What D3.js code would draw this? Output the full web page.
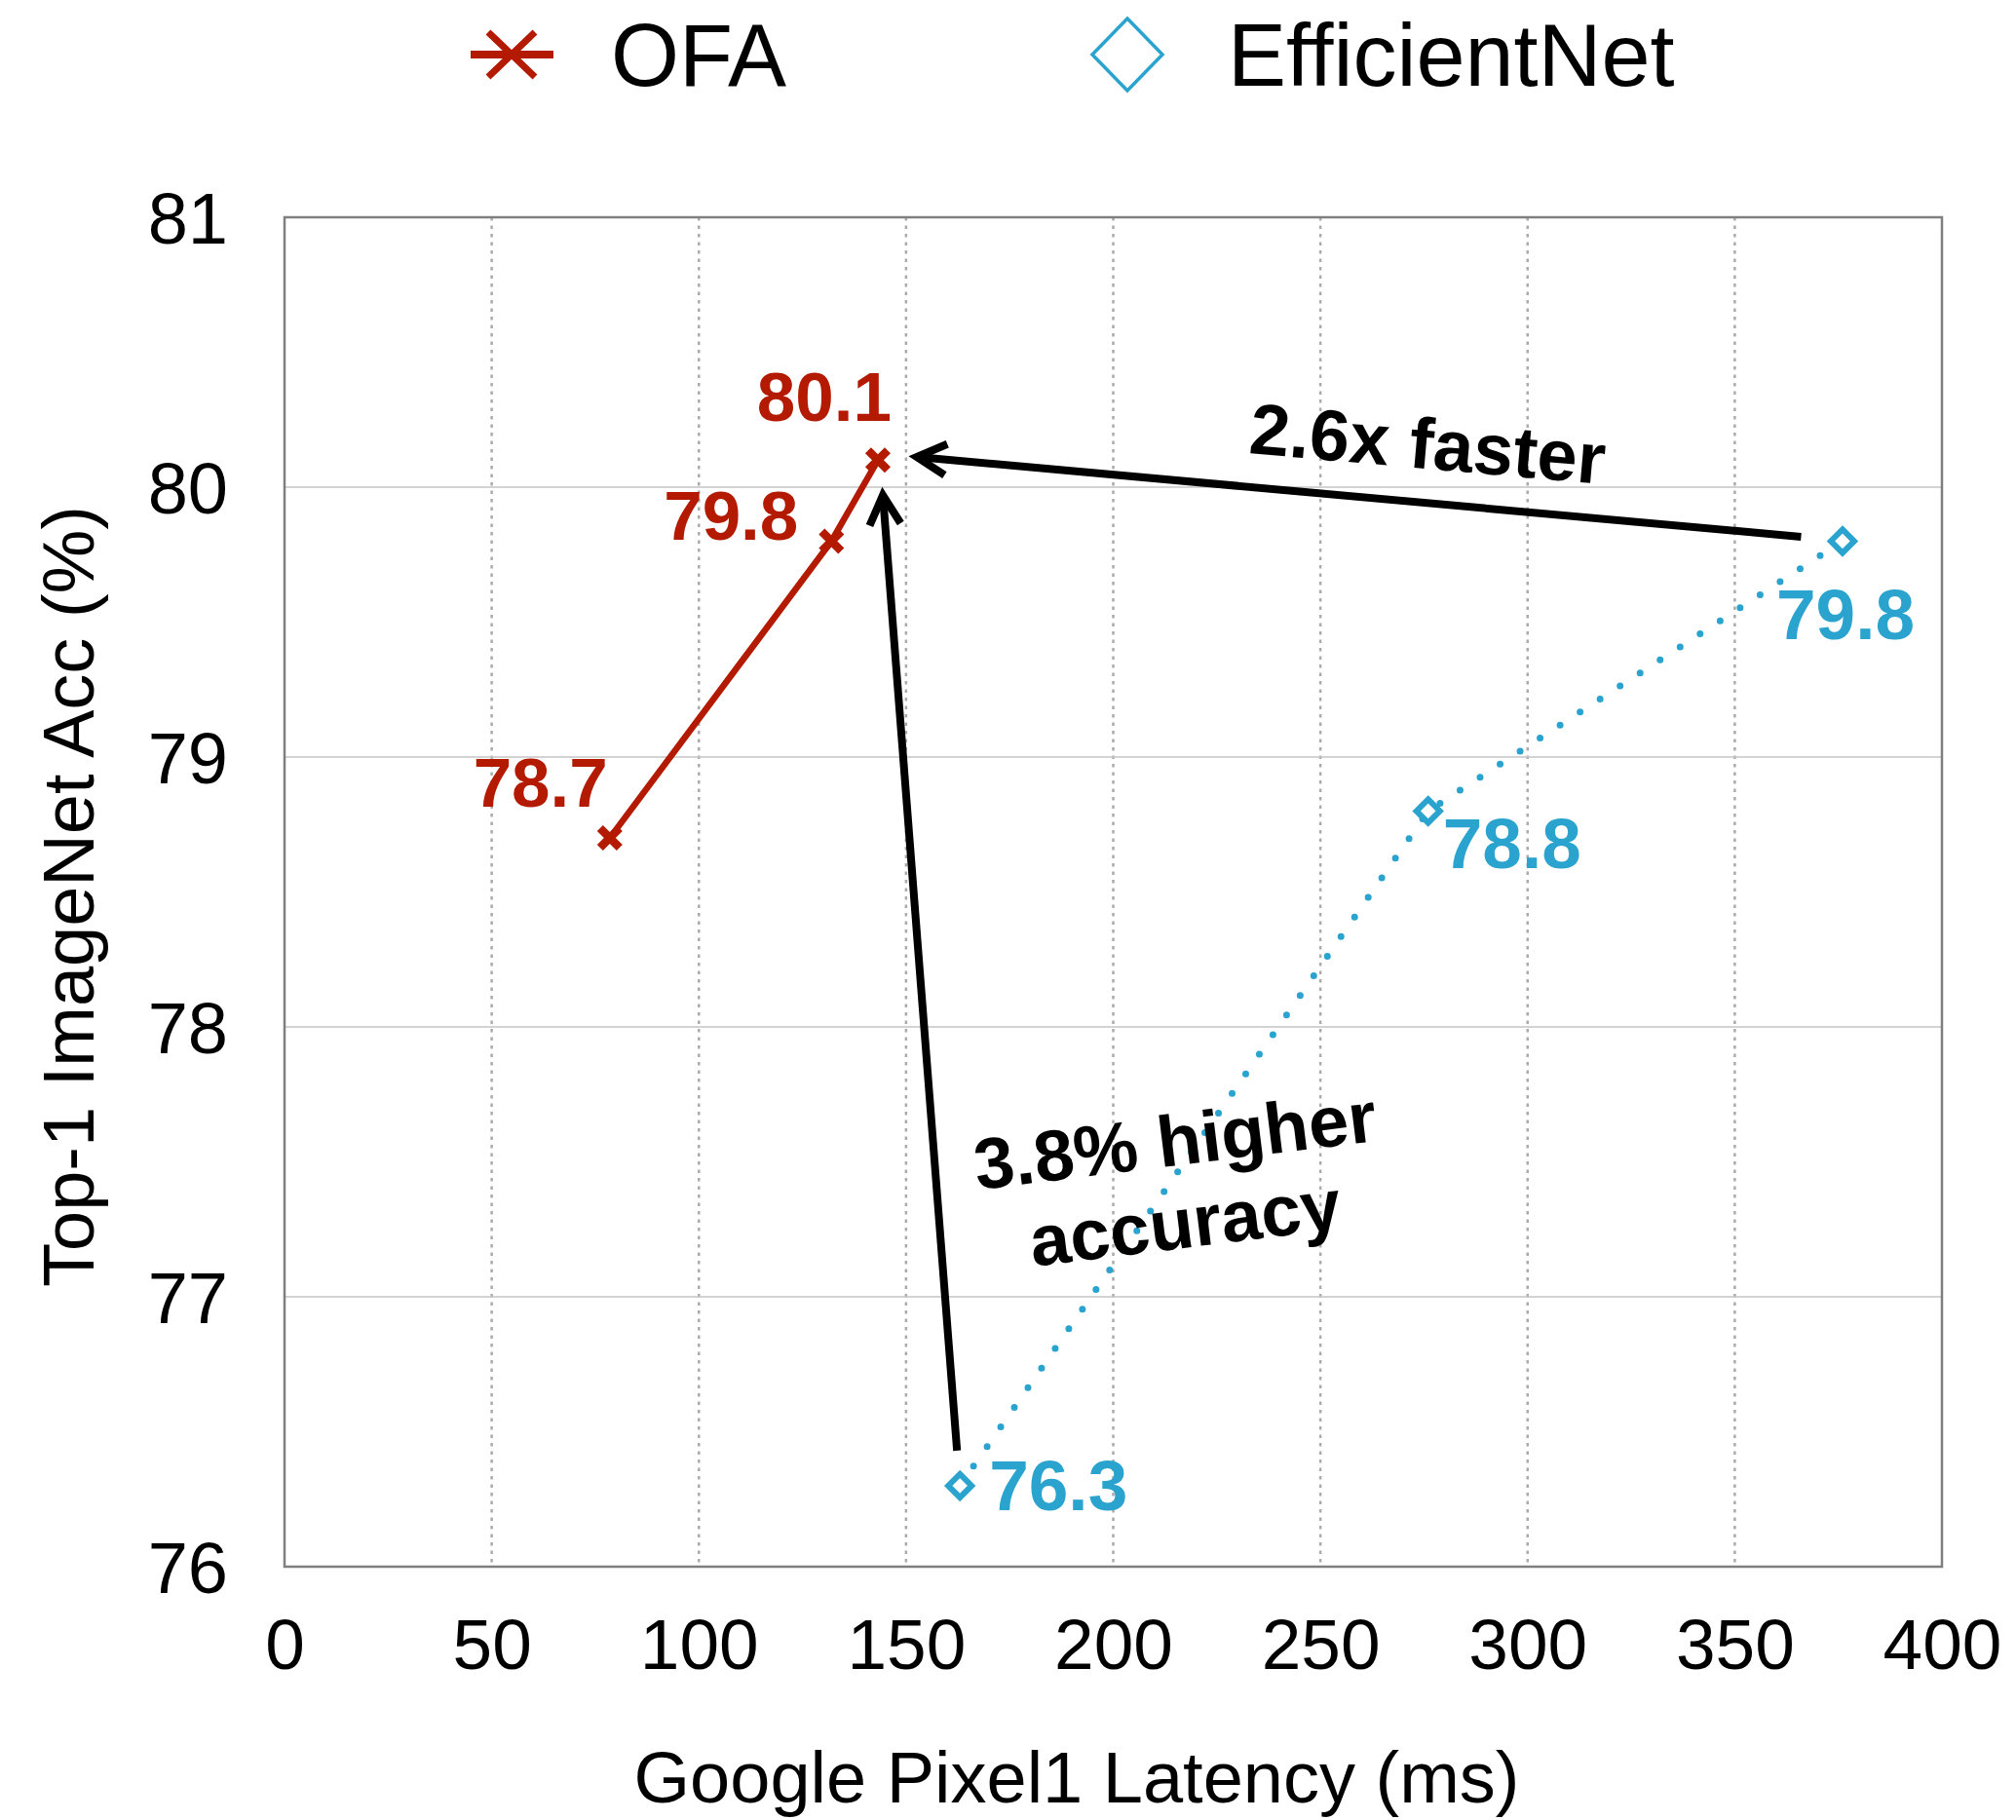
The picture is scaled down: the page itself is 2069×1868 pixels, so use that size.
<!DOCTYPE html>
<html>
<head>
<meta charset="utf-8">
<script src="https://cdn.jsdelivr.net/npm/d3@7"></script>
<style>
  html, body { margin: 0; padding: 0; background: #ffffff; }
  svg text { font-family: "Liberation Sans", Arial, Helvetica, sans-serif; }
</style>
</head>
<body>
<svg id="chart" width="2069" height="1868"></svg>
<script>
// ---- data ----
const seriesNames = ["OFA", "EfficientNet"];
const ofaLatency = [78.5, 132, 143.2];
const ofaAcc = [78.7, 79.8, 80.1];
const effLatency = [163, 276, 376];
const effAcc = [76.3, 78.8, 79.8];
const xTickValues = [0, 50, 100, 150, 200, 250, 300, 350, 400];
const yTickValues = [76, 77, 78, 79, 80, 81];
const xTitle = "Google Pixel1 Latency (ms)";
const yTitle = "Top-1 ImageNet Acc (%)";
// annotation arrows: [fromLatency, fromAcc, toLatency, toAcc]
const speedArrow = [366, 79.816, 152.6, 80.112];
const accArrow = [162.3, 76.43, 144.4, 79.97];
const speedText = ["2.6x faster"];
const accText = ["3.8% higher", "accuracy"];

// ---- layout ----
const RED = "#b31a00";
const BLUE = "#2aa4cf";
const plot = { left: 292, right: 1993, top: 223, bottom: 1608 };

const svg = d3.select("#chart");

const x = d3.scaleLinear().domain([0, 400]).range([plot.left, plot.right]);
const y = d3.scaleLinear().domain([76, 81]).range([plot.bottom, plot.top]);

// grid: dotted verticals, solid horizontals
const grid = svg.append("g");
grid.selectAll("line.vg")
  .data(xTickValues.filter(v => v > 0 && v < 400))
  .join("line")
  .attr("x1", d => x(d)).attr("x2", d => x(d))
  .attr("y1", plot.top).attr("y2", plot.bottom)
  .attr("stroke", "#ababab").attr("stroke-width", 2.5)
  .attr("stroke-dasharray", "3.5,5");
grid.selectAll("line.hg")
  .data(yTickValues.filter(v => v > 76 && v < 81))
  .join("line")
  .attr("x1", plot.left).attr("x2", plot.right)
  .attr("y1", d => y(d)).attr("y2", d => y(d))
  .attr("stroke", "#c4c4c4").attr("stroke-width", 1.5);

// plot frame
svg.append("rect")
  .attr("x", plot.left).attr("y", plot.top)
  .attr("width", plot.right - plot.left).attr("height", plot.bottom - plot.top)
  .attr("fill", "none").attr("stroke", "#7f7f7f").attr("stroke-width", 2.5);

// axes (labels only)
const xAxis = svg.append("g")
  .attr("transform", `translate(0,${plot.bottom})`)
  .call(d3.axisBottom(x).tickValues(xTickValues).tickFormat(d3.format("d"))
    .tickSize(0).tickPadding(0));
xAxis.select(".domain").remove();
xAxis.selectAll("text")
  .attr("y", 105).attr("dy", 0)
  .attr("font-size", 73).attr("fill", "#000");

const yAxis = svg.append("g")
  .attr("transform", `translate(${plot.left},0)`)
  .call(d3.axisLeft(y).tickValues(yTickValues).tickFormat(d3.format("d"))
    .tickSize(0).tickPadding(0));
yAxis.select(".domain").remove();
yAxis.selectAll("text")
  .attr("x", -58).attr("dy", "0.36em")
  .attr("font-size", 74).attr("fill", "#000");

// axis titles
svg.append("text")
  .attr("x", 1105).attr("y", 1850)
  .attr("text-anchor", "middle").attr("font-size", 74)
  .text(xTitle);
svg.append("text")
  .attr("transform", "translate(96,920) rotate(-90)")
  .attr("text-anchor", "middle").attr("font-size", 74)
  .text(yTitle);

// ---- series ----
const ofaPts = ofaLatency.map((v, i) => [v, ofaAcc[i]]);
const effPts = effLatency.map((v, i) => [v, effAcc[i]]);
const line = d3.line().x(d => x(d[0])).y(d => y(d[1]));

// EfficientNet: dotted line + hollow diamonds
svg.append("path")
  .attr("d", line(effPts))
  .attr("fill", "none").attr("stroke", BLUE)
  .attr("stroke-width", 7).attr("stroke-linecap", "round")
  .attr("stroke-dasharray", "0,24.5");
svg.selectAll("path.eff-mark")
  .data(effPts).join("path")
  .attr("transform", d => `translate(${x(d[0])},${y(d[1])})`)
  .attr("d", "M0,-12L12,0L0,12L-12,0Z")
  .attr("fill", "#fff").attr("stroke", BLUE).attr("stroke-width", 6);

// OFA: solid line + cross markers
svg.append("path")
  .attr("d", line(ofaPts))
  .attr("fill", "none").attr("stroke", RED).attr("stroke-width", 6.5);
const cross = svg.selectAll("g.ofa-mark")
  .data(ofaPts).join("g")
  .attr("transform", d => `translate(${x(d[0])},${y(d[1])})`);
cross.append("path")
  .attr("d", "M-10,-10L10,10M-10,10L10,-10")
  .attr("stroke", RED).attr("stroke-width", 8.5);

// value labels (positioned relative to their points)
const ofaLabelOffsets = [[-2, -32, "end"], [-34, -1, "end"], [14, -40, "end"]];
const effLabelOffsets = [[30, 25, "start"], [15, 59, "start"], [-68, 101, "start"]];
const fmt = d3.format(".1f");
svg.selectAll("text.ofa-label")
  .data(ofaPts).join("text")
  .attr("x", (d, i) => x(d[0]) + ofaLabelOffsets[i][0])
  .attr("y", (d, i) => y(d[1]) + ofaLabelOffsets[i][1])
  .attr("text-anchor", (d, i) => ofaLabelOffsets[i][2])
  .attr("font-size", 71).attr("font-weight", "bold").attr("fill", RED)
  .text(d => fmt(d[1]));
svg.selectAll("text.eff-label")
  .data(effPts).join("text")
  .attr("x", (d, i) => x(d[0]) + effLabelOffsets[i][0])
  .attr("y", (d, i) => y(d[1]) + effLabelOffsets[i][1])
  .attr("text-anchor", (d, i) => effLabelOffsets[i][2])
  .attr("font-size", 73).attr("font-weight", "bold").attr("fill", BLUE)
  .text(d => fmt(d[1]));

// ---- annotation arrows ----
function drawArrow(a) {
  const x1 = x(a[0]), y1 = y(a[1]), x2 = x(a[2]), y2 = y(a[3]);
  const g = svg.append("g").attr("stroke", "#000").attr("fill", "none")
    .attr("stroke-width", 8);
  g.append("line").attr("x1", x1).attr("y1", y1).attr("x2", x2).attr("y2", y2);
  const ang = Math.atan2(y1 - y2, x1 - x2);
  const len = 34, spread = 28 * Math.PI / 180;
  const p1 = [x2 + len * Math.cos(ang - spread), y2 + len * Math.sin(ang - spread)];
  const p2 = [x2 + len * Math.cos(ang + spread), y2 + len * Math.sin(ang + spread)];
  g.append("path")
    .attr("d", `M${p1[0]},${p1[1]}L${x2},${y2}L${p2[0]},${p2[1]}`)
    .attr("stroke-linejoin", "miter");
}
drawArrow(speedArrow);
drawArrow(accArrow);

svg.append("text")
  .attr("transform", "translate(1463,481) rotate(5)")
  .attr("text-anchor", "middle").attr("font-size", 74).attr("font-weight", "bold")
  .text(speedText[0]);
const accLabel = svg.append("text")
  .attr("transform", "translate(1209,1196) rotate(-7)")
  .attr("text-anchor", "middle").attr("font-size", 74).attr("font-weight", "bold");
accLabel.selectAll("tspan").data(accText).join("tspan")
  .attr("x", 0).attr("y", (d, i) => i * 85)
  .text(d => d);

// ---- legend ----
const legend = svg.append("g");
const lgOfa = legend.append("g").attr("transform", "translate(525,56)");
lgOfa.append("line").attr("x1", -42).attr("x2", 43).attr("y1", 0).attr("y2", 0)
  .attr("stroke", RED).attr("stroke-width", 8);
lgOfa.append("path").attr("d", "M-24,-23L24,23M-24,23L24,-23")
  .attr("stroke", RED).attr("stroke-width", 7);
legend.append("text").attr("x", 627).attr("y", 88)
  .attr("font-size", 90).text(seriesNames[0]);

legend.append("path")
  .attr("transform", "translate(1157,56)")
  .attr("d", "M0,-37L36,0L0,37L-36,0Z")
  .attr("fill", "none").attr("stroke", BLUE).attr("stroke-width", 3.5);
legend.append("text").attr("x", 1260).attr("y", 88)
  .attr("font-size", 90).text(seriesNames[1]);
</script>
</body>
</html>
